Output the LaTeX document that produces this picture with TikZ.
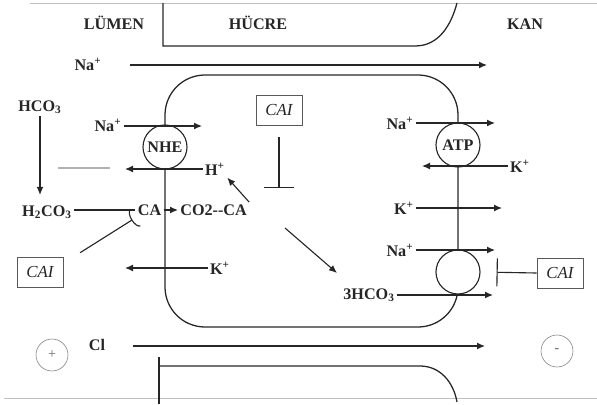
\documentclass[tikz,border=0pt]{standalone}
\usepackage{fontspec}
\setmainfont{Liberation Serif}
\usetikzlibrary{arrows.meta}

\begin{document}
\begin{tikzpicture}[
  font=\fontsize{11.5}{13}\selectfont\bfseries,
  every node/.style={text=black!85, inner sep=1.5pt},
  arr/.style={-{Latex[length=2mm, width=1.7mm]}, line width=0.8pt, draw=black!85},
  plain/.style={line width=0.8pt, draw=black!85},
  memb/.style={line width=0.9pt, draw=black!85},
  pump/.style={draw=black!85, circle, fill=white, minimum size=1.1cm, inner sep=0pt, line width=0.8pt},
  inhib/.style={draw=black!65, font=\fontsize{12}{14}\selectfont\mdseries\itshape, minimum width=1.15cm, minimum height=0.75cm, inner sep=1pt},
  block/.style={-{Bar[width=7.5mm]}, line width=0.8pt, draw=black!85},
  cup/.style={-{Arc Barb[reversed, length=1.2mm, width=5mm]}, line width=0.8pt, draw=black!85},
  charge/.style={draw=black!50, circle, minimum size=0.8cm, inner sep=0pt, text=black!60, font=\normalfont},
  scan/.style={draw=black!25, line width=0.6pt}
]
\useasboundingbox (0,0) rectangle (14.925,-10.1);

% ---------- Compartments ----------
\node (lumen) at (2.85,-0.575) {LÜMEN};
\node (hucre) at (6.45,-0.575) {HÜCRE};
\node (kan)   at (13.125,-0.6) {KAN};
\draw[scan] (0.75,-0.075) -- (14.925,-0.075);
\draw[scan] (0.1,-9.95) -- (14.925,-9.95);
\draw[memb] (4.075,-0.075) -- (4.075,-1.15) -- (10.375,-1.15) to[out=0, in=-105] (11.425,-0.075);
\draw[memb] (3.975,-8.925) -- (3.975,-10.1);
\draw[memb] (3.975,-9.15) -- (10.5,-9.15) to[out=0, in=100] (11.425,-10.05);

% ---------- Cell and transporters ----------
\draw[memb, rounded corners=1cm] (4.125,-1.875) rectangle (11.45,-8.175);
\node[pump] (nhe)    at (4.125,-3.675) {NHE};
\node[pump] (atp)    at (11.45,-3.625) {ATP};
\node[pump] (hco3ex) at (11.45,-6.8) {};

% ---------- Paracellular flows ----------
\node (naTop) at (2.2,-1.6) {Na\textsuperscript{+}};
\coordinate (naTopA) at (3.25,-1.625);
\coordinate (naTopB) at (12.175,-1.625);
\draw[arr] (naTopA) -- (naTopB);
\node (cl) at (2.425,-8.625) {Cl};
\coordinate (clA) at (3.325,-8.65);
\coordinate (clB) at (12.125,-8.65);
\draw[arr] (clA) -- (clB);
\node[charge] (plus)  at (1.3,-8.875) {+};
\node[charge] (minus) at (13.925,-8.775) {-};

% ---------- Luminal side ----------
\node (naNhe) at (2.7,-3.125) {Na\textsuperscript{+}};
\coordinate (naNheB) at (5.05,-3.15);
\draw[arr] (naNhe.east |- naNheB) -- (naNheB);
\node (hNhe) at (5.375,-4.225) {H\textsuperscript{+}};
\coordinate (hNheB) at (3.125,-4.225);
\draw[arr] (hNhe.west) -- (hNheB);
\draw[black!30, line width=0.8pt] (1.45,-4.2) -- (2.75,-4.2);
\node (hco3) at (1.0,-2.675) {HCO\textsubscript{3}};
\node (h2co3) at (1.175,-5.3) {H\textsubscript{2}CO\textsubscript{3}};
\draw[arr, shorten >=2mm] (hco3.south) -- (hco3.south |- h2co3.north);
\node[anchor=east] (ca) at (4.09,-5.25) {CA};
\node[anchor=west] (co2) at (4.45,-5.25) {CO2{-}{-}CA};
\draw[plain] (h2co3.east |- ca) -- (ca.west);
\draw[arr] (ca.east) -- (co2.west);
\draw[arr] (co2.north east) -- (hNhe.south east);
\node (kIn) at (5.5,-6.7) {K\textsuperscript{+}};
\coordinate (kInB) at (3.125,-6.7);
\draw[arr] (kIn.west) -- (kInB);

% ---------- Inhibitors ----------
\node[inhib] (caiTop) at (6.975,-2.75) {CAI};
\coordinate (caStop) at (6.975,-4.7);
\draw[block, shorten <=3mm] (caiTop.south) -- (caStop);
\node[inhib] (caiLeft) at (1.0,-6.8) {CAI};
\draw[cup] ([shift={(0.42,0.1)}]caiLeft.north east) -- (ca.south west);
\node[inhib] (caiRight) at (14.0,-6.825) {CAI};
\draw[block, -{Bar[width=7mm]}, shorten >=4mm] (caiRight.west) -- (hco3ex.east);

% ---------- Basolateral side ----------
\coordinate (co2out) at (7.125,-5.7);
\coordinate (hcoTip) at (8.425,-6.825);
\draw[arr] (co2out) -- (hcoTip);
\node (naAtp) at (10.0,-3.075) {Na\textsuperscript{+}};
\coordinate (naAtpB) at (12.375,-3.075);
\draw[arr] (naAtp.east) -- (naAtpB);
\node (kOut) at (13.0,-4.15) {K\textsuperscript{+}};
\coordinate (kOutB) at (10.55,-4.15);
\draw[arr] (kOut.west) -- (kOutB);
\node (kCh) at (10.1,-5.2) {K\textsuperscript{+}};
\coordinate (kChB) at (12.55,-5.2);
\draw[arr] (kCh.east) -- (kChB);
\node (naCo) at (10.0,-6.25) {Na\textsuperscript{+}};
\coordinate (naCoB) at (12.375,-6.25);
\draw[arr] (naCo.east) -- (naCoB);
\node (hco3out) at (9.225,-7.375) {3HCO\textsubscript{3}};
\coordinate (hco3outB) at (12.325,-7.375);
\draw[arr] (hco3out.east) -- (hco3outB);
\end{tikzpicture}
\end{document}
